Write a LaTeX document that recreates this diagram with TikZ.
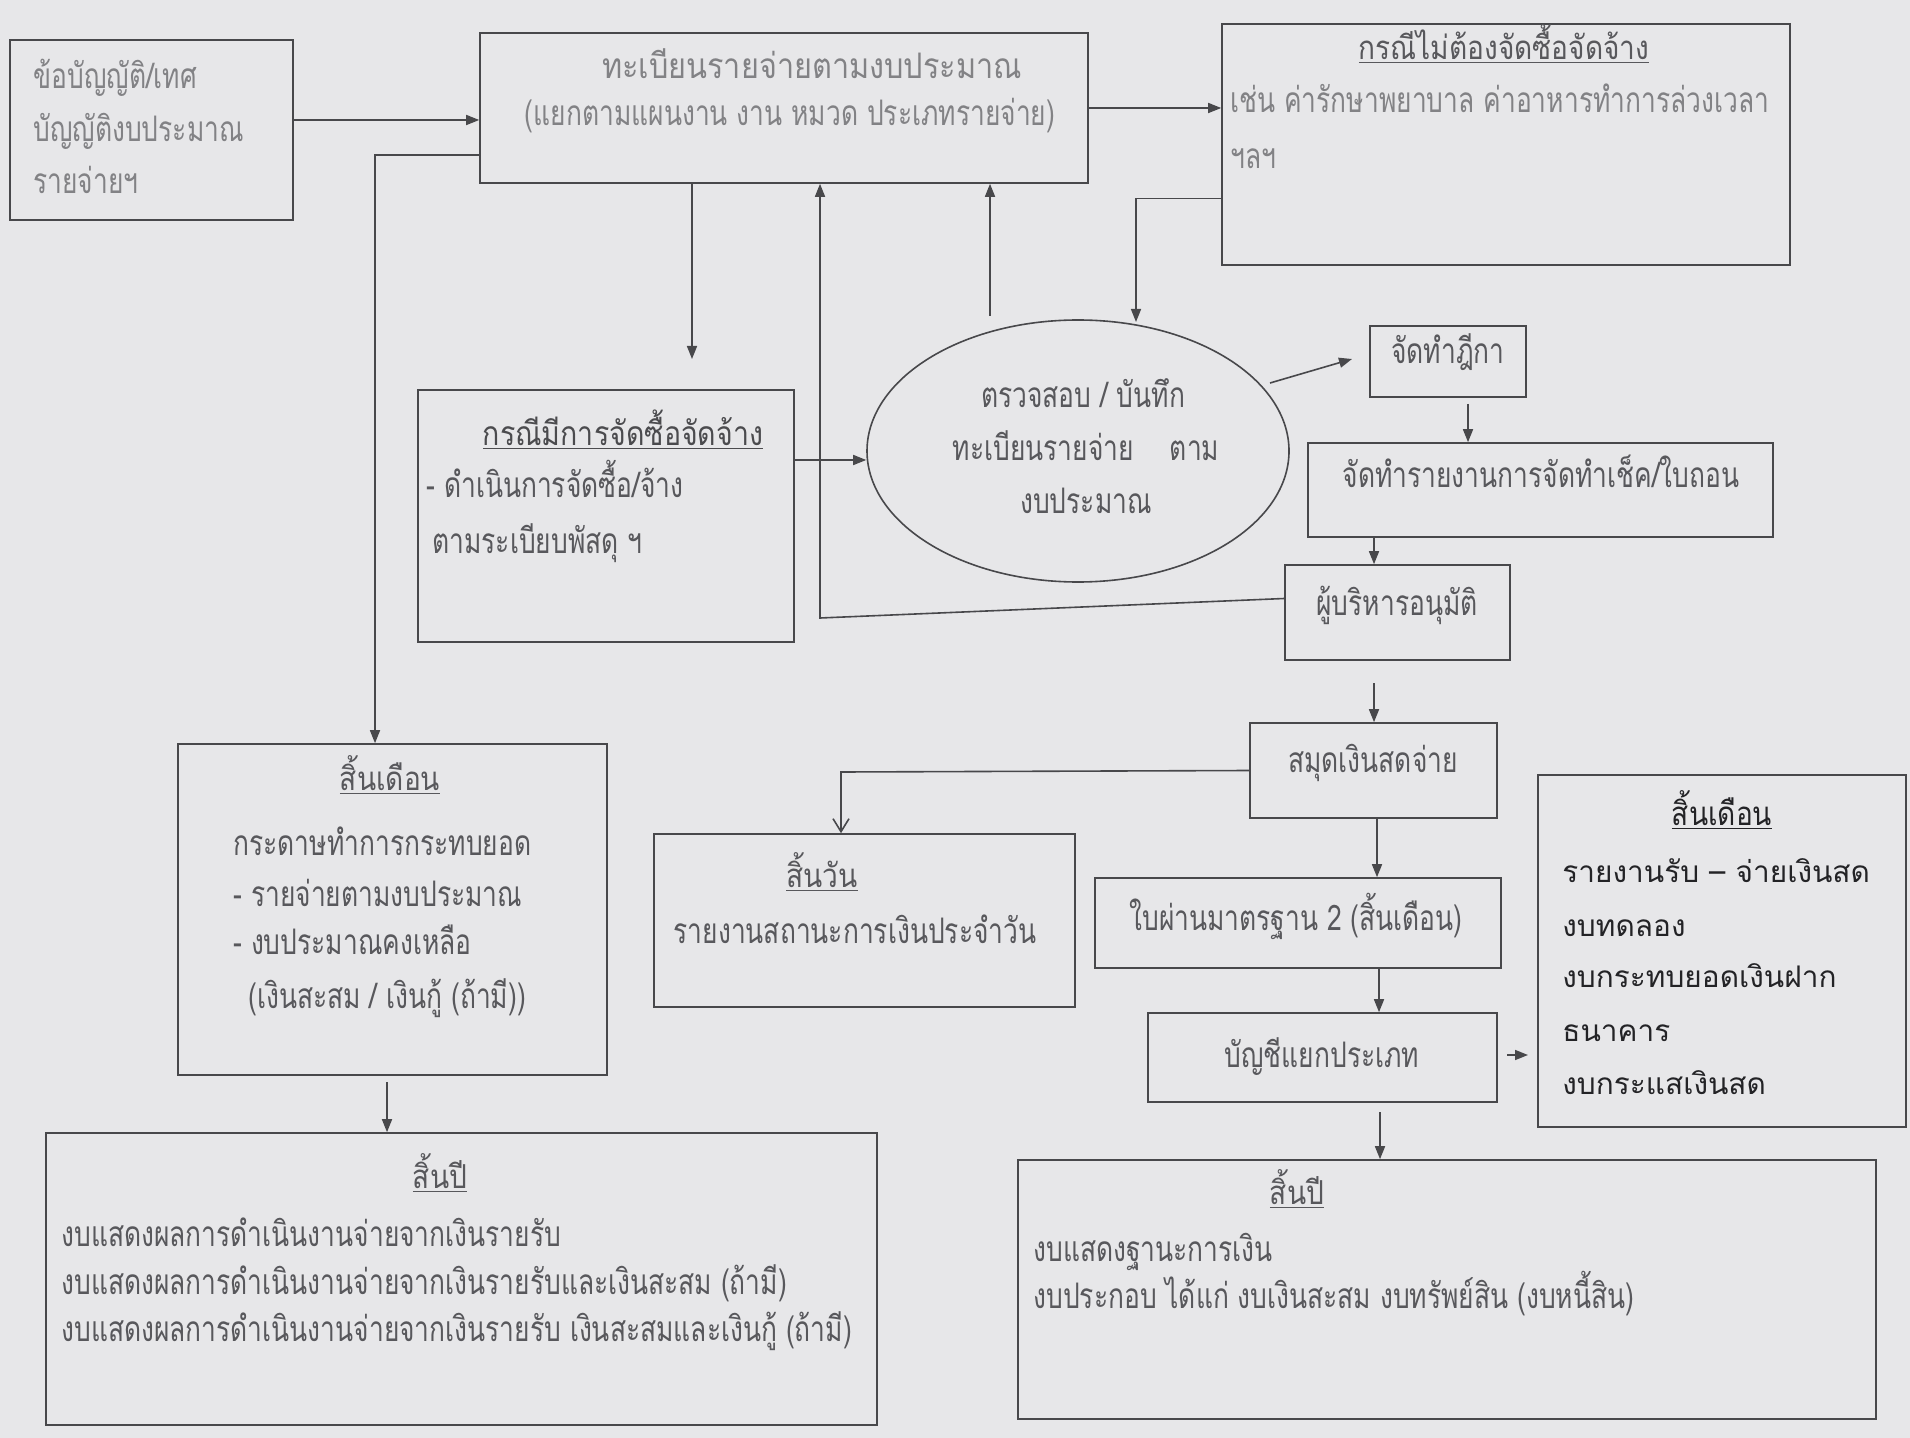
\documentclass[tikz,border=0pt]{standalone}
\usepackage{fontspec}
\setmainfont[Script=Thai]{Loma}
\newfontfamily\bodyf[Script=Thai,FakeStretch=0.75]{Loma}
\newfontfamily\widef[Script=Thai,FakeStretch=0.87]{Loma}
\newfontfamily\ttlf[Script=Thai,FakeStretch=0.85]{Loma}
\usetikzlibrary{arrows.meta,shapes.geometric,fit,calc}
\definecolor{bgc}{RGB}{231,231,233}
\definecolor{ln}{RGB}{72,72,75}
\definecolor{txa}{RGB}{130,130,133}
\definecolor{txb}{RGB}{88,88,92}
\definecolor{txc}{RGB}{35,35,38}
\begin{document}
\begin{tikzpicture}[x=0.5pt,y=-0.5pt,
  box/.style={draw=ln, line width=0.8pt, inner sep=0pt, rectangle},
  arr/.style={draw=ln, line width=0.8pt, -{Triangle[length=6.5pt,width=5pt]}},
  varr/.style={draw=ln, line width=0.8pt, -{Straight Barb[length=6.5pt,width=8pt]}},
  txt/.style={inner sep=0pt, yshift=-4.4pt, font=\bodyf\fontsize{17.6}{20}\selectfont, text=txb},
  lt/.style={txt, anchor=base west},
  ct/.style={txt, anchor=base},
  ttl/.style={inner sep=0pt, yshift=-4.2pt, anchor=base, font=\ttlf\fontsize{16.5}{19}\selectfont, text=txb},
  rt/.style={inner sep=0pt, yshift=-4.4pt, anchor=base west, font=\fontsize{14.9}{18}\selectfont, text=txc}
]
% background
\fill[bgc] (0,0) rectangle (1910,1438);
\useasboundingbox (0,0) rectangle (1910,1438);

% ---------- boxes ----------
\node[box, fit={(10,40) (293,220)}] (tl) {};
\node[box, fit={(480,33) (1088,183)}] (tc) {};
\node[box, fit={(1222,24) (1790,265)}] (tr) {};
\node[box, fit={(418,390) (794,642)}] (pur) {};
\node[draw=ln, line width=0.8pt, ellipse, inner sep=0pt, minimum width=211pt, minimum height=131pt] (ell) at (1078,451) {};
\node[box, fit={(1370,326) (1526,397)}] (dika) {};
\node[box, fit={(1308,443) (1773,537)}] (rep) {};
\node[box, fit={(1285,565) (1510,660)}] (exec) {};
\node[box, fit={(1250,723) (1497,818)}] (cash) {};
\node[box, fit={(654,834) (1075,1007)}] (day) {};
\node[box, fit={(1095,878) (1501,968)}] (std) {};
\node[box, fit={(1148,1013) (1497,1102)}] (ledger) {};
\node[box, fit={(1538,775) (1906,1127)}] (rm) {};
\node[box, fit={(178,744) (607,1075)}] (lm) {};
\node[box, fit={(46,1133) (877,1425)}] (bl) {};
\node[box, fit={(1018,1160) (1876,1419)}] (br) {};

% ---------- texts ----------
\node[lt, text=txa] (tl1) at (33,80) {ข้อบัญญัติ/เทศ};
\node[lt, text=txa] (tl2) at (33,133) {บัญญัติงบประมาณ};
\node[lt, text=txa] (tl3) at (33,185) {รายจ่ายฯ};

\node[ct, text=txa, font=\widef\fontsize{17.6}{20}\selectfont] (tc1) at (812,70) {ทะเบียนรายจ่ายตามงบประมาณ};
\node[ct, text=txa] (tc2) at (790,117) {(แยกตามแผนงาน งาน หมวด ประเภทรายจ่าย)};

\node[ttl] (tr0) at (1504,51) {\underline{กรณีไม่ต้องจัดซื้อจัดจ้าง}};
\node[lt, text=txa] (tr1) at (1230,104) {เช่น ค่ารักษาพยาบาล ค่าอาหารทำการล่วงเวลา};
\node[lt, text=txa] (tr2) at (1230,160) {ฯลฯ};

\node[ttl, font=\ttlf\fontsize{16.8}{20}\selectfont, text=txb!85!black] (pur0) at (623,437) {\underline{กรณีมีการจัดซื้อจัดจ้าง}};
\node[lt] (pur1) at (426,489) {- ดำเนินการจัดซื้อ/จ้าง};
\node[lt] (pur2) at (432,545) {ตามระเบียบพัสดุ ฯ};

\node[ct] (e1) at (1083,399) {ตรวจสอบ / บันทึก};
\node[ct] (e2) at (1086,452) {ทะเบียนรายจ่าย\hspace{18pt}ตาม};
\node[ct] (e3) at (1086,505) {งบประมาณ};

\node[ct] (dika1) at (1448,355) {จัดทำฎีกา};
\node[ct] (rep1) at (1541,479) {จัดทำรายงานการจัดทำเช็ค/ใบถอน};
\node[ct] (exec1) at (1397,607) {ผู้บริหารอนุมัติ};
\node[ct] (cash1) at (1373,764) {สมุดเงินสดจ่าย};

\node[ttl] (day0) at (822,879) {\underline{สิ้นวัน}};
\node[ct] (day1) at (855,935) {รายงานสถานะการเงินประจำวัน};

\node[ct] (std1) at (1296,922) {ใบผ่านมาตรฐาน 2 (สิ้นเดือน)};
\node[ct] (led1) at (1322,1059) {บัญชีแยกประเภท};

\node[ttl, text=txc] (rm0) at (1722,817) {\underline{สิ้นเดือน}};
\node[rt] (rm1) at (1562,874) {รายงานรับ – จ่ายเงินสด};
\node[rt] (rm2) at (1562,928) {งบทดลอง};
\node[rt] (rm3) at (1562,979) {งบกระทบยอดเงินฝาก};
\node[rt] (rm4) at (1562,1033) {ธนาคาร};
\node[rt] (rm5) at (1562,1086) {งบกระแสเงินสด};

\node[ttl] (lm0) at (390,782) {\underline{สิ้นเดือน}};
\node[lt] (lm1) at (233,847) {กระดาษทำการกระทบยอด};
\node[lt] (lm2) at (233,898) {- รายจ่ายตามงบประมาณ};
\node[lt] (lm3) at (233,946) {- งบประมาณคงเหลือ};
\node[lt] (lm4) at (248,1000) {(เงินสะสม / เงินกู้ (ถ้ามี))};

\node[ttl] (bl0) at (440,1180) {\underline{สิ้นปี}};
\node[lt] (bl1) at (61,1238) {งบแสดงผลการดำเนินงานจ่ายจากเงินรายรับ};
\node[lt] (bl2) at (61,1286) {งบแสดงผลการดำเนินงานจ่ายจากเงินรายรับและเงินสะสม (ถ้ามี)};
\node[lt] (bl3) at (61,1333) {งบแสดงผลการดำเนินงานจ่ายจากเงินรายรับ เงินสะสมและเงินกู้ (ถ้ามี)};

\node[ttl] (br0) at (1297,1196) {\underline{สิ้นปี}};
\node[lt] (br1) at (1033,1253) {งบแสดงฐานะการเงิน};
\node[lt] (br2) at (1033,1300) {งบประกอบ ได้แก่ งบเงินสะสม งบทรัพย์สิน (งบหนี้สิน)};

% ---------- coordinates ----------
\coordinate (k1) at (1136,322);
\coordinate (k2) at (692,359);
\coordinate (k3) at (990,316);
\coordinate (k4) at (820,618);
\coordinate (k5) at (1270,383);
\coordinate (k6) at (1352,359);
\coordinate (k7) at (1468,404);
\coordinate (k8) at (1374,537);
\coordinate (k9) at (1374,683);
\coordinate (k10) at (841,772);
\coordinate (k11) at (1377,818);
\coordinate (k12) at (1379,968);
\coordinate (k13) at (1507,1055);
\coordinate (k14) at (1528,1055);
\coordinate (k15) at (1380,1112);
\coordinate (k16) at (375,155);
\coordinate (k17) at (387,1082);

% ---------- connectors ----------
\draw[arr] ([yshift=5pt]tl.east) -- ([yshift=5pt]tl.east -| tc.west);
\draw[arr] (tc.east) -- (tc.east -| tr.west);
\draw[arr] ([yshift=-27pt]tr.west) -| (k1);
\draw[arr] (k2 |- tc.south) -- (k2);
\draw[arr] (k3) -- (k3 |- tc.south);
\draw[arr] ([yshift=7pt]exec.west) -- (k4) -- (k4 |- tc.south);
\draw[arr] ([yshift=28pt]pur.east) -- ([yshift=28pt]pur.east -| ell.west);
\draw[arr] (k5) -- (k6);
\draw[arr] (k7) -- (k7 |- rep.north);
\draw[arr] (k8) -- (k8 |- exec.north);
\draw[arr] (k9) -- (k9 |- cash.north);
\draw[varr] (cash.west) -- (k10) -- (k10 |- day.north);
\draw[arr] (k11) -- (k11 |- std.north);
\draw[arr] (k12) -- (k12 |- ledger.north);
\draw[arr] (k13) -- (k14);
\draw[arr] (k15) -- (k15 |- br.north);
\draw[arr] (tc.west |- k16) -- (k16) -- (k16 |- lm.north);
\draw[arr] (k17) -- (k17 |- bl.north);
\end{tikzpicture}
\end{document}
